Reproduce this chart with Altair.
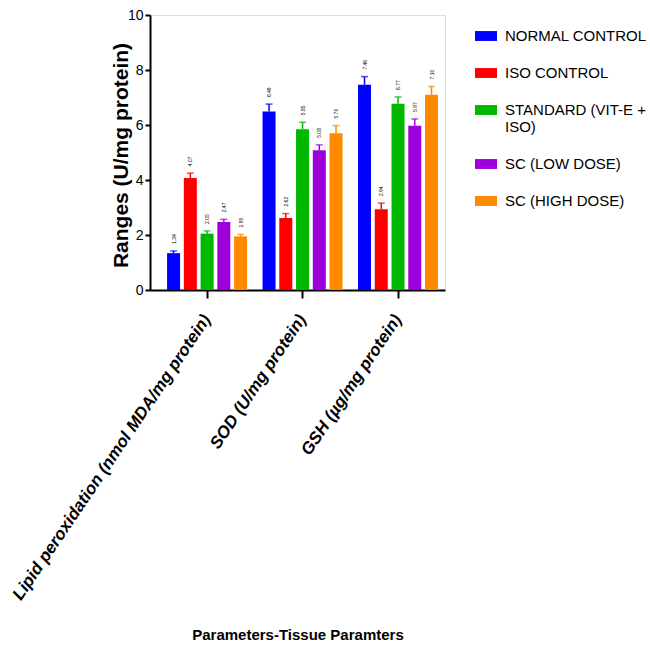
import altair as alt
import pandas as pd

params = ["Lipid peroxidation (nmol MDA/mg protein)", "SOD (U/mg protein)", "GSH (µg/mg protein)"]
groups = ["NORMAL CONTROL", "ISO CONTROL", "STANDARD (VIT-E + ISO)", "SC (LOW DOSE)", "SC (HIGH DOSE)"]
colors = ["#0000FF", "#FF0000", "#00B800", "#9E00DC", "#FF8A00"]

normal = [1.34, 6.49, 7.46]
iso = [4.07, 2.62, 2.94]
std = [2.05, 5.85, 6.77]
low = [2.47, 5.08, 5.97]
high = [1.95, 5.70, 7.10]

normal_err = [0.08, 0.27, 0.30]
iso_err = [0.18, 0.16, 0.22]
std_err = [0.10, 0.25, 0.25]
low_err = [0.10, 0.20, 0.25]
high_err = [0.07, 0.28, 0.30]

series = [normal, iso, std, low, high]
errs = [normal_err, iso_err, std_err, low_err, high_err]

rows = []
for g, vals, es in zip(groups, series, errs):
    for p, v, e in zip(params, vals, es):
        rows.append({"param": p, "group": g, "value": v, "err": e,
                     "top": v + e, "label": f"{v:.2f}"})
df = pd.DataFrame(rows)

x_enc = alt.X("param:N", sort=params,
              scale=alt.Scale(paddingInner=0.162, paddingOuter=0.126, align=0.71),
              axis=alt.Axis(title="Parameters-Tissue Paramters", labelAngle=-56,
                            labelAlign="right", labelBaseline="middle",
                            labelFontStyle="italic", labelFontWeight="bold",
                            labelFontSize=17, labelLimit=600, labelColor="black",
                            labelPadding=18,
                            tickSize=8, tickWidth=2, tickColor="black",
                            domainWidth=2, domainColor="black",
                            titleFontSize=15, titleFontWeight="bold",
                            titleColor="black", titlePadding=137))
xo_enc = alt.XOffset("group:N", sort=groups,
                     scale=alt.Scale(paddingInner=0.224, paddingOuter=0))
color_enc = alt.Color("group:N", sort=groups,
                      scale=alt.Scale(domain=groups, range=colors),
                      legend=alt.Legend(
                          title=None, orient="none", legendX=325, legendY=10,
                          symbolType="M-1,-0.45L1,-0.45L1,0.45L-1,0.45Z",
                          symbolSize=484, symbolStrokeWidth=0, symbolOpacity=1,
                          labelFontSize=15, labelLimit=300, labelColor="black",
                          labelOffset=8, rowPadding=18,
                          labelExpr="datum.label == 'STANDARD (VIT-E + ISO)' ? ['STANDARD (VIT-E +', 'ISO)'] : datum.label"))

base = alt.Chart(df)

bars = base.mark_bar(size=13).encode(
    x=x_enc,
    xOffset=xo_enc,
    y=alt.Y("value:Q", scale=alt.Scale(domain=[0, 10]),
            axis=alt.Axis(title="Ranges (U/mg protein)", values=[0, 2, 4, 6, 8, 10],
                          grid=False, labelFontSize=14, labelColor="black",
                          labelPadding=2,
                          tickSize=5, tickWidth=2, tickColor="black",
                          domainWidth=2, domainColor="black",
                          titleFontSize=21, titleFontWeight="bold",
                          titleColor="black", titleX=-19, titleY=140,
                          titleAngle=270, titleAlign="center",
                          titleBaseline="bottom")),
    color=color_enc,
)

rules = base.mark_rule(strokeWidth=1.5).encode(
    x=alt.X("param:N", sort=params),
    xOffset=xo_enc,
    y="value:Q",
    y2="top:Q",
    color=alt.Color("group:N", sort=groups, legend=None),
)

caps = base.mark_tick(size=7, thickness=1.5).encode(
    x=alt.X("param:N", sort=params),
    xOffset=xo_enc,
    y="top:Q",
    color=alt.Color("group:N", sort=groups, legend=None),
)

labels = base.mark_text(fontSize=5, angle=270, align="left", baseline="middle",
                        dx=7, color="black").encode(
    x=alt.X("param:N", sort=params),
    xOffset=xo_enc,
    y="top:Q",
    text="label:N",
)

chart = alt.layer(bars, rules, caps, labels).properties(
    width=295, height=275,
    autosize=alt.AutoSizeParams(type="none"),
    padding={"left": 150, "top": 15, "right": 205, "bottom": 360},
).configure_view(stroke=None).configure(font="Liberation Sans")

chart.save("out.html", embed_options={"renderer": "svg", "actions": False})
